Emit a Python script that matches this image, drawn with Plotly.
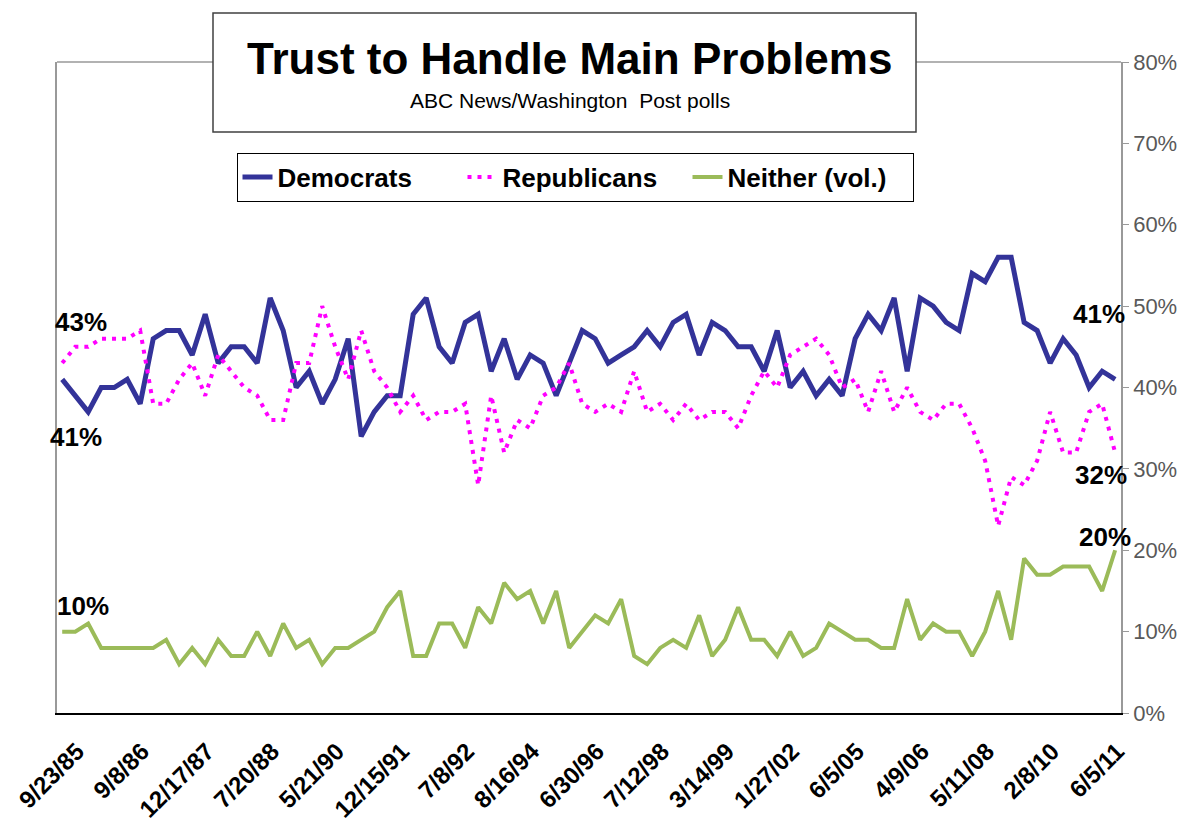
import plotly.graph_objects as go

# ---- data ----
tick_labels = ["9/23/85", "9/8/86", "12/17/87", "7/20/88", "5/21/90", "12/15/91",
               "7/8/92", "8/16/94", "6/30/96", "7/12/98", "3/14/99", "1/27/02",
               "6/5/05", "4/9/06", "5/11/08", "2/8/10", "6/5/11"]
tick_step = 5

democrats = [41, 39, 37, 40, 40, 41, 38, 46, 47, 47, 44, 49, 43, 45, 45, 43, 51, 47, 40, 42,
             38, 41, 46, 34, 37, 39, 39, 49, 51, 45, 43, 48, 49, 42, 46, 41, 44, 43, 39, 43,
             47, 46, 43, 44, 45, 47, 45, 48, 49, 44, 48, 47, 45, 45, 42, 47, 40, 42, 39, 41,
             39, 46, 49, 47, 51, 42, 51, 50, 48, 47, 54, 53, 56, 56, 48, 47, 43, 46, 44, 40,
             42, 41]
republicans = [43, 45, 45, 46, 46, 46, 47, 38, 38, 41, 43, 39, 44, 42, 40, 39, 36, 36, 43, 43,
               50, 45, 41, 47, 42, 40, 37, 39, 36, 37, 37, 38, 28, 39, 32, 36, 35, 39, 40, 43,
               38, 37, 38, 37, 42, 37, 38, 36, 38, 36, 37, 37, 35, 39, 42, 40, 44, 45, 46, 44,
               40, 41, 37, 42, 37, 40, 37, 36, 38, 38, 35, 31, 23, 29, 28, 31, 37, 32, 32, 37,
               38, 32]
neither = [10, 10, 11, 8, 8, 8, 8, 8, 9, 6, 8, 6, 9, 7, 7, 10, 7, 11, 8, 9,
           6, 8, 8, 9, 10, 13, 15, 7, 7, 11, 11, 8, 13, 11, 16, 14, 15, 11, 15, 8,
           10, 12, 11, 14, 7, 6, 8, 9, 8, 12, 7, 9, 13, 9, 9, 7, 10, 7, 8, 11,
           10, 9, 9, 8, 8, 14, 9, 11, 10, 10, 7, 10, 15, 9, 19, 17, 17, 18, 18, 18,
           15, 20]

series_names = ["Democrats", "Republicans", "Neither (vol.)"]
y_ticks = [0, 10, 20, 30, 40, 50, 60, 70, 80]
y_tick_text = [f"{v}%" for v in y_ticks]

# ---- layout helpers (page pixel -> paper); the page body adds an 8px offset ----
W, H = 1194, 823
OFF = 8
PLOT_L, PLOT_R, PLOT_T, PLOT_B = 57, 1121, 62, 713   # plot area in page pixels
ML, MT = PLOT_L - OFF, PLOT_T - OFF
MR, MB = W - (PLOT_R - OFF), H - (PLOT_B - OFF)
PW, PH = PLOT_R - PLOT_L, PLOT_B - PLOT_T


def px(x):
    return (x - PLOT_L) / PW


def py(y):
    return (PLOT_B - y) / PH


idx = list(range(len(democrats)))
FONT = "Liberation Sans, Arial, sans-serif"

fig = go.Figure()
fig.add_trace(go.Scatter(x=idx, y=democrats, name=series_names[0], mode="lines",
                         line=dict(color="#333399", width=5)))
fig.add_trace(go.Scatter(x=idx, y=republicans, name=series_names[1], mode="lines",
                         line=dict(color="#FF00FF", width=4, dash="4px,6px")))
fig.add_trace(go.Scatter(x=idx, y=neither, name=series_names[2], mode="lines",
                         line=dict(color="#9BBB59", width=4)))

tickvals = list(range(0, len(democrats), tick_step))[:len(tick_labels)]

fig.update_layout(
    width=W, height=H,
    margin=dict(l=ML, r=MR, t=MT, b=MB, pad=0, autoexpand=False),
    paper_bgcolor="white", plot_bgcolor="white",
    font=dict(family=FONT, color="black"),
    showlegend=True,
    legend=dict(orientation="h", x=px(575), y=py(177), xanchor="center", yanchor="middle",
                bgcolor="white", bordercolor="black", borderwidth=1,
                font=dict(family=FONT, size=26, color="black", weight="bold"),
                itemwidth=30, entrywidth=180, tracegroupgap=0),
    xaxis=dict(range=[-0.4, len(democrats) - 1 + 0.45], tickmode="array",
               tickvals=tickvals, ticktext=tick_labels, tickangle=-45,
               tickfont=dict(family=FONT, size=24, color="black", weight="bold"),
               ticklabelshift=15, ticklabelstandoff=13, automargin=False,
               showgrid=False, zeroline=False, showline=True, linecolor="black",
               linewidth=1.5, ticks=""),
    yaxis=dict(range=[0, 80], side="right", tickmode="array", tickvals=y_ticks,
               ticktext=y_tick_text, tickfont=dict(family=FONT, size=22, color="#595959"),
               automargin=False, showgrid=False, zeroline=False, showline=True,
               linecolor="#999999", linewidth=1.5, ticks="outside", ticklen=6,
               tickcolor="#999999", mirror=True),
)

# top border of the plot area
fig.add_shape(type="line", xref="paper", yref="paper", x0=0, x1=1, y0=1, y1=1,
              line=dict(color="#999999", width=1.5), layer="below")

# title box
fig.add_shape(type="rect", xref="paper", yref="paper",
              x0=px(213), x1=px(916), y0=py(132), y1=py(13),
              line=dict(color="#404040", width=1.5), fillcolor="white", layer="above")
fig.add_annotation(text="Trust to Handle Main Problems", xref="paper", yref="paper",
                   x=px(569.5), y=py(58), showarrow=False, xanchor="center", yanchor="middle",
                   font=dict(family=FONT, size=44, color="black", weight="bold"))
fig.add_annotation(text="ABC News/Washington  Post polls", xref="paper", yref="paper",
                   x=px(569.5), y=py(101), showarrow=False, xanchor="center", yanchor="middle",
                   font=dict(family=FONT, size=21, color="black"))

# value labels at the ends of the series
lab_font = dict(family=FONT, size=26, color="black", weight="bold")
last = len(democrats) - 1
labels = [
    (0, republicans[0], 19, 41),
    (0, democrats[0], 14, -58),
    (0, neither[0], 21, 26),
    (last, democrats[last], -16, 65),
    (last, republicans[last], -14, -22),
    (last, neither[last], -10, 13),
]
for xi, yv, dx, dy in labels:
    fig.add_annotation(x=xi, y=yv, xref="x", yref="y", text=f"{yv}%", showarrow=False,
                       xshift=dx, yshift=dy, xanchor="center", yanchor="middle", font=lab_font)

fig.write_html("out.html")
